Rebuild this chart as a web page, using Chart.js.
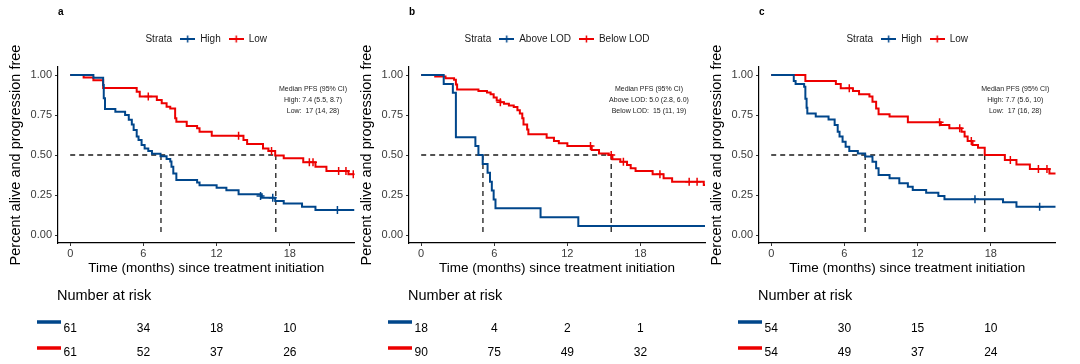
<!DOCTYPE html>
<html>
<head>
<meta charset="utf-8">
<script src="https://cdn.jsdelivr.net/npm/chart.js@4.4.1/dist/chart.umd.min.js"></script>
<style>
  body { margin: 0; background: #fff; }
  canvas { position: absolute; top: 0; }
</style>
</head>
<body>
<canvas id="pa" width="360" height="364" style="left:0px"></canvas>
<canvas id="pb" width="360" height="364" style="left:351px"></canvas>
<canvas id="pc" width="360" height="364" style="left:701px"></canvas>
<script>
// shared axis values
const xTicks = [0, 6, 12, 18];
const yTicks = [0, 0.25, 0.5, 0.75, 1];
const riskTimes = [0, 6, 12, 18];

// panel a
const aHighT = [0, 1.9, 2.7, 2.75, 2.85, 3.7, 4.5, 4.8, 5.05, 5.2, 5.45, 5.6, 5.85, 6.1, 6.4, 6.7, 7.4, 7.9, 8.2, 8.3, 8.45, 8.7, 10.4, 10.6, 12.0, 12.8, 13.8, 15.7, 16.8, 17.5, 19.0, 20.1, 23.3];
const aHighS = [1, 0.983, 0.938, 0.854, 0.787, 0.77, 0.75, 0.72, 0.69, 0.656, 0.615, 0.594, 0.563, 0.541, 0.525, 0.508, 0.492, 0.475, 0.459, 0.426, 0.385, 0.344, 0.328, 0.311, 0.295, 0.279, 0.254, 0.233, 0.212, 0.197, 0.177, 0.156, 0.156];
const aLowT = [0, 1.1, 1.9, 2.7, 5.45, 5.7, 7.1, 7.5, 7.9, 8.2, 8.6, 8.7, 9.55, 10.4, 10.6, 11.6, 14.2, 14.5, 15.8, 16.25, 16.8, 17.5, 19.1, 20.1, 21.0, 22.8, 23.3];
const aLowS = [1, 0.984, 0.967, 0.918, 0.895, 0.865, 0.844, 0.823, 0.802, 0.79, 0.729, 0.708, 0.681, 0.667, 0.646, 0.62, 0.594, 0.569, 0.54, 0.525, 0.497, 0.479, 0.454, 0.427, 0.40, 0.38, 0.38];
const aHighCens = [[15.6, 0.244], [16.6, 0.233], [21.9, 0.156]];
const aLowCens = [[6.4, 0.865], [13.8, 0.62], [16.5, 0.525], [19.6, 0.454], [19.9, 0.454], [22.0, 0.40], [22.6, 0.40], [23.2, 0.38]];
const aMedians = [7.44, 16.85];
const aRiskHigh = [61, 34, 18, 10];
const aRiskLow = [61, 52, 37, 26];
const aNotes = ['Median PFS (95% CI)', 'High: 7.4 (5.5, 8.7)', 'Low:  17 (14, 28)'];

// panel b
const bAboveT = [0, 1.85, 2.6, 2.85, 4.45, 4.7, 5.05, 5.45, 5.65, 5.8, 5.95, 6.1, 9.8, 12.9, 23.3];
const bAboveS = [1, 0.944, 0.889, 0.611, 0.556, 0.5, 0.444, 0.389, 0.333, 0.278, 0.222, 0.167, 0.111, 0.056, 0.056];
const bBelowT = [0, 1.15, 2.0, 2.7, 2.85, 2.95, 4.7, 5.4, 5.7, 5.95, 6.2, 6.5, 6.8, 7.2, 7.6, 7.9, 8.1, 8.3, 8.4, 8.7, 8.8, 10.3, 10.9, 11.3, 12.0, 14.0, 14.6, 15.4, 15.7, 16.35, 16.9, 17.2, 17.6, 19.0, 19.9, 20.6, 23.2, 23.3];
const bBelowS = [1, 0.99, 0.98, 0.97, 0.94, 0.91, 0.90, 0.89, 0.88, 0.86, 0.84, 0.83, 0.82, 0.81, 0.80, 0.78, 0.76, 0.73, 0.69, 0.66, 0.63, 0.608, 0.588, 0.573, 0.556, 0.531, 0.51, 0.50, 0.473, 0.458, 0.438, 0.417, 0.40, 0.379, 0.354, 0.333, 0.313, 0.313];
const bAboveCens = [];
const bBelowCens = [[6.5, 0.83], [13.9, 0.556], [15.6, 0.50], [16.6, 0.458], [19.6, 0.379], [22.0, 0.333], [22.65, 0.333]];
const bMedians = [5.07, 15.6];
const bRiskAbove = [18, 4, 2, 1];
const bRiskBelow = [90, 75, 49, 32];
const bNotes = ['Median PFS (95% CI)', 'Above LOD: 5.0 (2.8, 6.0)', 'Below LOD:  15 (11, 19)'];

// panel c
const cHighT = [0, 1.85, 2.0, 2.7, 2.8, 2.9, 2.96, 3.65, 4.7, 5.2, 5.45, 5.6, 5.85, 6.1, 6.4, 7.1, 7.7, 8.3, 8.6, 8.8, 9.7, 10.5, 11.2, 11.6, 12.7, 13.7, 14.2, 19.0, 20.1, 23.4];
const cHighS = [1, 0.963, 0.944, 0.926, 0.852, 0.796, 0.759, 0.741, 0.722, 0.688, 0.646, 0.615, 0.583, 0.552, 0.525, 0.51, 0.49, 0.458, 0.417, 0.375, 0.354, 0.323, 0.302, 0.281, 0.264, 0.244, 0.223, 0.204, 0.177, 0.177];
const cLowT = [0, 2.8, 5.3, 5.7, 6.7, 7.2, 8.05, 8.3, 8.6, 8.8, 9.7, 11.2, 13.9, 14.6, 15.6, 15.85, 16.1, 16.5, 16.95, 17.5, 19.15, 20.1, 21.2, 22.8, 23.4];
const cLowS = [1, 0.963, 0.944, 0.917, 0.90, 0.88, 0.865, 0.833, 0.79, 0.754, 0.74, 0.704, 0.688, 0.667, 0.646, 0.615, 0.588, 0.563, 0.546, 0.50, 0.469, 0.44, 0.413, 0.385, 0.385];
const cHighCens = [[16.7, 0.223], [22.0, 0.177]];
const cLowCens = [[6.4, 0.917], [13.8, 0.704], [15.45, 0.667], [16.4, 0.588], [19.6, 0.469], [21.9, 0.413], [22.6, 0.413]];
const cMedians = [7.7, 17.5];
const cRiskHigh = [54, 30, 15, 10];
const cRiskLow = [54, 49, 37, 24];
const cNotes = ['Median PFS (95% CI)', 'High: 7.7 (5.6, 10)', 'Low:  17 (16, 28)'];

const BLUE = '#00468B';
const RED = '#ED0000';
const FONT = "'Liberation Sans', Arial, Helvetica, sans-serif";
Chart.defaults.font.family = FONT;

// legend key: line with a censor cross
function legendKey(color) {
  const c = document.createElement('canvas');
  c.width = 15; c.height = 8;
  const g = c.getContext('2d');
  g.strokeStyle = color;
  g.lineWidth = 2;
  g.beginPath(); g.moveTo(0, 4); g.lineTo(15, 4); g.stroke();
  g.lineWidth = 1.5;
  g.beginPath(); g.moveTo(7.5, 0.5); g.lineTo(7.5, 7.5); g.stroke();
  return c;
}
const keys = [legendKey(BLUE), legendKey(RED)];

const extras = {
  id: 'extras',
  afterLayout(chart) {
    const lg = chart.legend;
    const ctx = chart.ctx;
    ctx.save();
    ctx.font = '10px ' + FONT;
    const dx = (ctx.measureText('Strata').width + 8) / 2;
    ctx.restore();
    lg.left += dx;
    lg.right += dx;
  },
  afterDraw(chart, args, o) {
    const ctx = chart.ctx;
    const a = chart.chartArea;
    const xs = chart.scales.x, ys = chart.scales.y;
    const lg = chart.legend;
    ctx.save();
    // "Strata" before the legend items
    const startX = ((lg.left + 8) + (lg.right - lg.lineWidths[0])) / 2;
    ctx.fillStyle = '#1a1a1a';
    ctx.font = '10px ' + FONT;
    ctx.textAlign = 'right';
    ctx.textBaseline = 'middle';
    ctx.fillText('Strata', startX - 8, lg.top + 8 + 5);

    // median text box
    ctx.fillStyle = '#222';
    ctx.font = '7px ' + FONT;
    ctx.textAlign = 'center';
    const nx = xs.getPixelForValue(o.noteX), ny = ys.getPixelForValue(0.9125);
    o.notes.forEach((t, i) => ctx.fillText(t, nx, ny + i * 11));

    // number at risk table
    ctx.fillStyle = '#000';
    ctx.font = '14.5px ' + FONT;
    ctx.textAlign = 'left';
    ctx.fillText('Number at risk', a.left - 1, a.bottom + 53);
    ctx.font = '12px ' + FONT;
    ctx.textAlign = 'center';
    const rowY = [86, 110], barY = [79, 105];
    o.risk.forEach((row, r) => {
      ctx.fillStyle = [BLUE, RED][r];
      ctx.fillRect(a.left - 21, a.bottom + barY[r] - 1.75, 24, 3.5);
      ctx.fillStyle = '#000';
      row.forEach((n, k) => ctx.fillText(String(n), xs.getPixelForValue(riskTimes[k]), a.bottom + rowY[r]));
    });
    ctx.restore();
  }
};

function steps(t, s) { return t.map((x, i) => ({x: x, y: s[i]})); }
function marks(p) { return p.map(q => ({x: q[0], y: q[1]})); }
function dashed(data) {
  return {data: data, borderColor: '#1a1a1a', borderWidth: 1.3, borderDash: [5, 4], pointRadius: 0, fill: false};
}

function panel(id, p) {
  const ctx = document.getElementById(id).getContext('2d');
  return new Chart(ctx, {
    type: 'line',
    data: {
      datasets: [
        {label: p.names[0], data: steps(p.t1, p.s1), borderColor: BLUE, borderWidth: 2, stepped: 'before', pointRadius: 0, fill: false},
        {label: p.names[1], data: steps(p.t2, p.s2), borderColor: RED, borderWidth: 2, stepped: 'before', pointRadius: 0, fill: false},
        {data: marks(p.c1), showLine: false, pointStyle: 'cross', pointRadius: 4, pointBorderWidth: 1.5, pointBorderColor: BLUE},
        {data: marks(p.c2), showLine: false, pointStyle: 'cross', pointRadius: 4, pointBorderWidth: 1.5, pointBorderColor: RED},
        dashed([{x: 0, y: 0.5}, {x: Math.max(...p.med), y: 0.5}]),
        dashed([{x: p.med[0], y: 0.5}, {x: p.med[0], y: 0}]),
        dashed([{x: p.med[1], y: 0.5}, {x: p.med[1], y: 0}])
      ]
    },
    options: {
      responsive: false,
      animation: false,
      events: [],
      layout: {padding: {left: 0, right: p.padRight, top: 0, bottom: 88}},
      plugins: {
        title: {display: true, text: p.tag, align: 'start', fullSize: false, color: '#000',
          font: {size: 10, weight: 'bold'}, padding: {top: 6, bottom: 8}},
        subtitle: {display: true, text: ' ', fullSize: false, weight: 500, padding: 0,
          font: {size: 10, lineHeight: 1.3}},
        legend: {
          position: 'top', fullSize: false, align: 'center',
          labels: {
            usePointStyle: true, pointStyleWidth: 15, padding: 8, color: '#1a1a1a', font: {size: 10},
            generateLabels: chart => chart.data.datasets.slice(0, 2).map((d, i) => ({
              text: d.label, pointStyle: keys[i], fillStyle: d.borderColor, strokeStyle: d.borderColor,
              lineWidth: 0, datasetIndex: i, hidden: false, fontColor: '#1a1a1a'
            }))
          }
        },
        tooltip: {enabled: false},
        extras: {notes: p.notes, noteX: p.noteX, risk: p.risk}
      },
      scales: {
        x: {
          type: 'linear', min: -1.0, max: 23.3,
          afterBuildTicks: s => { s.ticks = xTicks.map(v => ({value: v})); },
          afterFit: s => { s.height = 33; },
          grid: {drawOnChartArea: false, tickLength: 3, color: '#333'},
          border: {color: '#000', width: 1.2},
          ticks: {color: '#3a3a3a', font: {size: 11}, padding: 1, maxRotation: 0},
          title: {display: true, text: 'Time (months) since treatment initiation', color: '#000',
            font: {size: 13.5}, padding: 0}
        },
        y: {
          min: -0.05, max: 1.05,
          afterBuildTicks: s => { s.ticks = yTicks.map(v => ({value: v})); },
          afterFit: s => { s.width = 58; },
          grid: {drawOnChartArea: false, tickLength: 3, color: '#333'},
          border: {color: '#000', width: 1.2},
          ticks: {color: '#3a3a3a', font: {size: 11}, padding: 3, callback: v => Number(v).toFixed(2)},
          title: {display: true, text: 'Percent alive and progression free', color: '#000',
            font: {size: 14.5}, padding: {top: 7, bottom: 0}}
        }
      }
    },
    plugins: [extras]
  });
}

panel('pa', {tag: 'a', names: ['High', 'Low'], t1: aHighT, s1: aHighS, t2: aLowT, s2: aLowS,
  c1: aHighCens, c2: aLowCens, med: aMedians, risk: [aRiskHigh, aRiskLow], notes: aNotes, noteX: 19.9, padRight: 5});
panel('pb', {tag: 'b', names: ['Above LOD', 'Below LOD'], t1: bAboveT, s1: bAboveS, t2: bBelowT, s2: bBelowS,
  c1: bAboveCens, c2: bBelowCens, med: bMedians, risk: [bRiskAbove, bRiskBelow], notes: bNotes, noteX: 18.7, padRight: 6});
panel('pc', {tag: 'c', names: ['High', 'Low'], t1: cHighT, s1: cHighS, t2: cLowT, s2: cLowS,
  c1: cHighCens, c2: cLowCens, med: cMedians, risk: [cRiskHigh, cRiskLow], notes: cNotes, noteX: 20.0, padRight: 4});
</script>
</body>
</html>
